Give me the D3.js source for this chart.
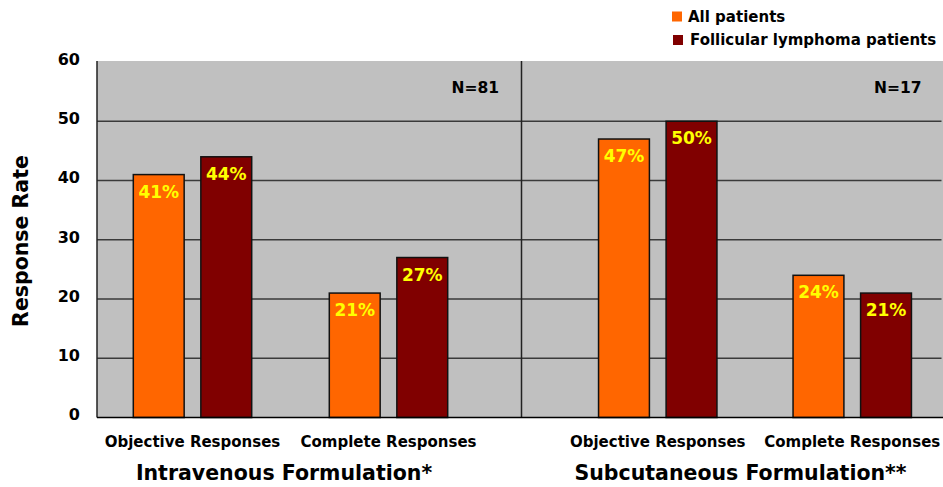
<!DOCTYPE html>
<html>
<head>
<meta charset="utf-8">
<script src="https://cdn.jsdelivr.net/npm/d3@7/dist/d3.min.js"></script>
<style>
  html, body { margin: 0; padding: 0; background: #fff; }
  svg { display: block; font-family: "DejaVu Sans", Verdana, sans-serif; font-weight: bold; }
</style>
</head>
<body>
<svg id="chart" width="943" height="487"></svg>
<script>
// Response rates by formulation, response type and patient group
const categories = ["Objective Responses", "Complete Responses"];
const formulations = ["Intravenous Formulation*", "Subcutaneous Formulation**"];
const seriesNames = ["All patients", "Follicular lymphoma patients"];
const ivAllPatients = [41, 21];
const ivFollicular = [44, 27];
const scAllPatients = [47, 24];
const scFollicular = [50, 21];
const sampleSizes = ["N=81", "N=17"];
const yTicks = [0, 10, 20, 30, 40, 50, 60];

const colors = ["#FF6600", "#800000"];

const svg = d3.select("#chart");
const W = 943, H = 487;
const plot = { left: 97, right: 943, top: 61, bottom: 417.5 };

const y = d3.scaleLinear().domain([0, 60]).range([plot.bottom, 62]);

// panel layouts: category bands for each formulation
const panels = [
  { name: formulations[0], range: [94.5, 486.5], values: [ivAllPatients, ivFollicular], n: sampleSizes[0], nX: 499, titleX: 284 },
  { name: formulations[1], range: [560.5, 949.5], values: [scAllPatients, scFollicular], n: sampleSizes[1], nX: 921.5, titleX: 740.5 }
];

// plot background
svg.append("rect")
  .attr("x", plot.left).attr("y", plot.top)
  .attr("width", plot.right - plot.left).attr("height", plot.bottom - plot.top)
  .attr("fill", "#C0C0C0");

// horizontal gridlines
svg.append("g").selectAll("line")
  .data(yTicks.filter(t => t > 0 && t < 60))
  .join("line")
  .attr("x1", plot.left).attr("x2", 941.5)
  .attr("y1", d => y(d)).attr("y2", d => y(d))
  .attr("stroke", "#3a3a3a").attr("stroke-width", 1.5);

// divider between formulations
svg.append("line")
  .attr("x1", 521.5).attr("x2", 521.5)
  .attr("y1", plot.top).attr("y2", plot.bottom)
  .attr("stroke", "#222").attr("stroke-width", 1.5);

// y axis
const yAxis = svg.append("g")
  .attr("transform", `translate(${plot.left},0)`)
  .call(d3.axisLeft(y).tickValues(yTicks).tickSize(0).tickPadding(17).tickFormat(d3.format("d")));
yAxis.select(".domain").remove();
yAxis.selectAll("text")
  .attr("font-family", "DejaVu Sans, Verdana, sans-serif")
  .attr("font-weight", "bold")
  .attr("font-size", 16)
  .attr("fill", "#000")
  .attr("dy", "0.15em");

svg.append("line")
  .attr("x1", plot.left).attr("x2", plot.left)
  .attr("y1", plot.top).attr("y2", plot.bottom)
  .attr("stroke", "#222").attr("stroke-width", 1.5);

const inner = d3.scaleBand().domain(seriesNames).range([-59.2, 59.2]).paddingInner(0.247).paddingOuter(0);

panels.forEach(p => {
  const x = d3.scaleBand().domain(categories).range(p.range).padding(0);
  const rows = [];
  categories.forEach((c, i) => {
    seriesNames.forEach((s, j) => rows.push({ cat: c, series: s, j, value: p.values[j][i] }));
  });
  const cx = d => x(d.cat) + x.bandwidth() / 2 + inner(d.series);

  const g = svg.append("g");
  g.selectAll("rect")
    .data(rows)
    .join("rect")
    .attr("x", cx)
    .attr("y", d => y(d.value))
    .attr("width", inner.bandwidth())
    .attr("height", d => y(0) - y(d.value))
    .attr("fill", d => colors[d.j])
    .attr("stroke", "#111")
    .attr("stroke-width", 1.5);

  g.selectAll("text.val")
    .data(rows)
    .join("text")
    .attr("class", "val")
    .attr("x", d => cx(d) + inner.bandwidth() / 2)
    .attr("y", d => y(d.value) + 23)
    .attr("text-anchor", "middle")
    .attr("font-size", 17)
    .attr("fill", "#FFFF00")
    .text(d => d.value + "%");

  // category labels
  g.selectAll("text.cat")
    .data(categories)
    .join("text")
    .attr("class", "cat")
    .attr("x", d => x(d) + x.bandwidth() / 2)
    .attr("y", 446.5)
    .attr("text-anchor", "middle")
    .attr("font-size", 15)
    .attr("fill", "#000")
    .text(d => d);

  // formulation title
  g.append("text")
    .attr("x", p.titleX).attr("y", 480)
    .attr("text-anchor", "middle")
    .attr("font-size", 20.5)
    .attr("fill", "#000")
    .text(p.name);

  // sample size
  g.append("text")
    .attr("x", p.nX).attr("y", 93)
    .attr("text-anchor", "end")
    .attr("font-size", 15.5)
    .attr("fill", "#000")
    .text(p.n);
});

// x baseline
svg.append("line")
  .attr("x1", plot.left).attr("x2", plot.right)
  .attr("y1", plot.bottom).attr("y2", plot.bottom)
  .attr("stroke", "#000").attr("stroke-width", 1.5);

// y axis title
svg.append("text")
  .attr("transform", "translate(28,241) rotate(-90)")
  .attr("text-anchor", "middle")
  .attr("font-size", 20.5)
  .attr("fill", "#000")
  .text("Response Rate");

// legend
const legend = svg.append("g");
seriesNames.forEach((s, i) => {
  legend.append("rect")
    .attr("x", 672 + i).attr("y", 11.5 + i * 23.5)
    .attr("width", 10).attr("height", 10)
    .attr("fill", colors[i]);
  legend.append("text")
    .attr("x", 688 + i * 2).attr("y", 21.5 + i * 23.5)
    .attr("font-size", 15)
    .attr("fill", "#000")
    .text(s);
});
</script>
</body>
</html>
